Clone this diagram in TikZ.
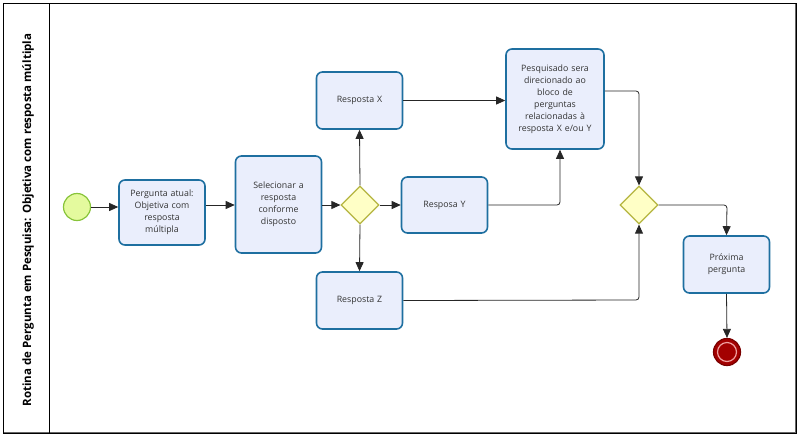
\documentclass[tikz,border=0pt]{standalone}
\usepackage{fontspec}
\setmainfont{Open Sans}
\usetikzlibrary{shapes.geometric,arrows.meta}
\definecolor{boxfill}{HTML}{EAEEFC}
\definecolor{boxline}{HTML}{1E6FA0}
\definecolor{gwfill}{HTML}{FFFFC6}
\definecolor{gwline}{HTML}{B5B540}
\definecolor{stfill}{HTML}{E4FA9E}
\definecolor{stline}{HTML}{88C43A}
\definecolor{endfill}{HTML}{A30000}
\definecolor{endline}{HTML}{7A0000}
\definecolor{endring}{HTML}{F0A0A0}
\definecolor{txt}{HTML}{333333}
\tikzset{
  task/.style={draw=boxline, line width=1.6pt, fill=boxfill, rounded corners=6pt,
    align=center, font=\fontsize{8.8}{12}\selectfont, text=txt, inner sep=2pt},
  gw/.style={draw=gwline, line width=1.2pt, fill=gwfill, diamond, minimum width=38pt, minimum height=38pt, inner sep=0pt},
  conn/.style={draw=black!85, line width=0.8pt, -{Triangle[length=9pt,width=8pt]}, rounded corners=3pt},
}
\begin{document}
\begin{tikzpicture}[x=1pt,y=-1pt]
\useasboundingbox (0,0) rectangle (800,440);
% frame
\draw[black!60, line width=1.8pt] (3.5,3) -- (3.5,433) -- (796,433) -- (796,3);
\draw[black, line width=0.8pt] (3,3) rectangle (796,433);
\draw[black, line width=0.8pt] (49,3) -- (49,433);
\node[rotate=90, font=\fontsize{11.5}{13}\selectfont\bfseries] (lane) at (28,220) {Rotina de Pergunta em Pesquisa: Objetiva com resposta múltipla};
% nodes
\node[circle, draw=stline, fill=stfill, line width=1.2pt, minimum size=27pt, inner sep=0pt] (start) at (77,207) {};
\node[task, minimum width=85pt, minimum height=65pt, text width=82pt] (perg) at (162,212.5) {Pergunta atual:\\Objetiva com\\resposta\\múltipla};
\node[task, minimum width=85pt, minimum height=97pt, text width=82pt] (sel) at (278.5,204.5) {Selecionar a\\resposta\\conforme\\disposto};
\node[gw] (g1) at (360,205) {};
\node[task, minimum width=85pt, minimum height=57pt, text width=82pt] (rx) at (359.5,100.5) {Resposta X};
\node[task, minimum width=85pt, minimum height=56pt, text width=82pt] (ry) at (444.5,205) {Resposa Y};
\node[task, minimum width=85pt, minimum height=57pt, text width=82pt] (rz) at (359.5,300.5) {Resposta Z};
\node[task, minimum width=96pt, minimum height=100pt, text width=94pt] (pesq) at (555,99) {Pesquisado sera\\direcionado ao\\bloco de\\perguntas\\relacionadas à\\resposta X e/ou Y};
\node[gw] (g2) at (639,205) {};
\node[task, minimum width=85pt, minimum height=57pt, text width=82pt] (prox) at (726.5,264.5) {Próxima\\pergunta};
\node[circle, draw=endline, fill=endfill, line width=1.2pt, minimum size=27pt, inner sep=0pt] (end) at (727,352) {};
\node[circle, draw=endring, line width=1.2pt, minimum size=19pt, inner sep=0pt] (endin) at (727,352) {};
% connectors
\draw[conn] (start) -- (start -| perg.west);
\draw[conn] (perg.east |- 0,205) -- (sel.west |- 0,205);
\draw[conn] (sel.east |- g1) -- (g1.west);
\draw[conn] (g1.north) -- (rx.south);
\draw[conn] (g1.east) -- (ry.west);
\draw[conn] (g1.south) -- (rz.north);
\draw[conn] (rx.east) -- (pesq.west |- rx.east);
\draw[conn] (ry.east) -- (560,205) -- (560,149) -- (pesq.south -| 560,0);
\draw[conn] (pesq.east |- 0,91) -- (639,91) -- (g2.north);
\draw[conn] (rz.east) -- (639,300) -- (g2.south);
\draw[conn] (g2.east) -- (727,205) -- (prox.north);
\draw[conn] (prox.south) -- (end.north);
\end{tikzpicture}
\end{document}
